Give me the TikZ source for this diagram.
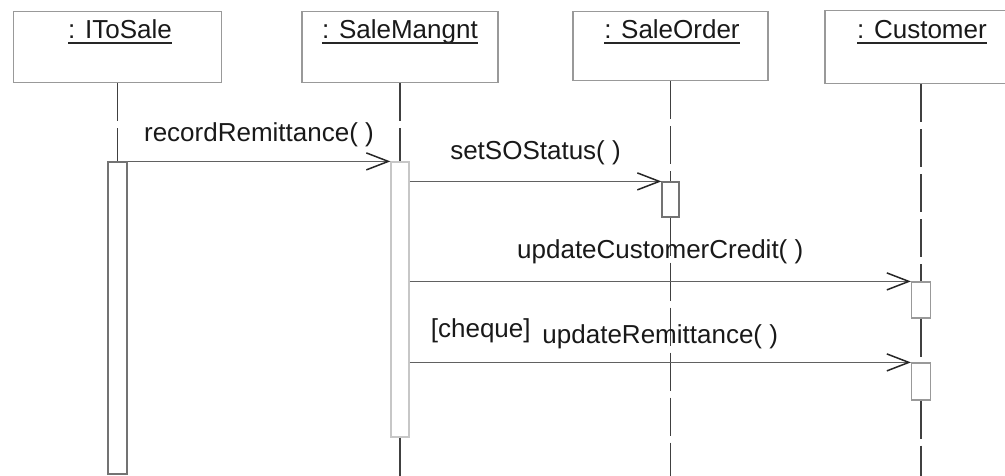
\documentclass[tikz,border=0pt]{standalone}
\usepackage{fontspec}
\setmainfont{Liberation Sans}
\usetikzlibrary{arrows.meta}
\begin{document}
\begin{tikzpicture}[x=1pt,y=-1pt,
  obj/.style={draw=black!40, line width=1.2pt, fill=white, inner sep=0pt},
  objname/.style={font=\fontsize{26}{31}\selectfont, text=black!90, anchor=base, inner sep=0pt},
  uline/.style={draw=black!85, line width=1.2pt},
  act/.style={draw=black!55, line width=1.2pt, fill=white, inner sep=0pt, minimum width=19pt},
  faintact/.style={act, draw=black!22},
  life/.style={draw=black!75, line width=1.4pt, dash pattern=on 38pt off 7pt},
  msg/.style={draw=black!62, line width=1.3pt,
    -{Straight Barb[length=22pt,width=17pt,line width=1.5pt,color=black!85]}},
  msglbl/.style={font=\fontsize{26}{31}\selectfont, text=black!90, anchor=base, inner sep=0pt}]
\useasboundingbox (0,0) rectangle (1005,476);
\clip (0,0) rectangle (1005,476);

% object boxes
\node[obj, minimum width=208pt, minimum height=71pt] (o1) at (117.5,47) {};
\node[obj, minimum width=196pt, minimum height=71pt] (o2) at (400,47) {};
\node[obj, minimum width=195pt, minimum height=69pt] (o3) at (670.5,46) {};
\node[obj, minimum width=192pt, minimum height=73pt] (o4) at (921,47) {};

% object names, underlined
\node[objname] (n1) at (120,39) {: IToSale};
\node[objname] (n2) at (400,39) {: SaleMangnt};
\node[objname] (n3) at (672,39) {: SaleOrder};
\node[objname] (n4) at (922,39) {: Customer};
\foreach \n in {n1,n2,n3,n4}
  \draw[uline] ([yshift=-4pt]\n.base west) -- ([yshift=-4pt]\n.base east);

% activation bars
\node[act, minimum height=312pt] (a1) at (117.5,318) {};
\node[faintact, minimum width=18pt, minimum height=275pt] (a2) at (400,299.5) {};
\node[act, minimum width=17pt, minimum height=35pt] (a3) at (670.5,199.5) {};
\node[act, draw=black!40, minimum height=36pt] (a4) at (921,300) {};
\node[act, draw=black!40, minimum height=37pt] (a5) at (921,381.5) {};

% lifeline ends at the lower border
\coordinate (e2) at (400,476);
\coordinate (e3) at (670.5,476);
\coordinate (e4) at (921,476);

% lifelines
\draw[life] (o1.south) -- (a1.north);
\draw[life] (o2.south) -- (a2.north);
\draw[life] (a2.south) -- (e2);
\draw[life] (o3.south) -- (a3.north);
\draw[life] (a3.south) -- (e3);
\draw[life] (o4.south) -- (a4.north);
\draw[life] (a4.south) -- (a5.north);
\draw[life] (a5.south) -- (e4);

% messages
\draw[msg] (a1.north east) -- (a2.north west)
  node[msglbl, midway, yshift=20pt] (m1) {recordRemittance( )};
\draw[msg] (a2.east |- a3.north west) -- (a3.north west)
  node[msglbl, midway, yshift=22pt] (m2) {setSOStatus( )};
\draw[msg] (a2.east |- a4.north west) -- (a4.north west)
  node[msglbl, midway, yshift=23pt] (m3) {updateCustomerCredit( )};
\draw[msg] (a2.east |- a5.north west) -- (a5.north west)
  node[msglbl, midway, yshift=19pt] (m4) {updateRemittance( )};
\node[msglbl, anchor=base east] (g4) at ([xshift=-11pt,yshift=6pt]m4.base west) {\relax[cheque]};
\end{tikzpicture}
\end{document}
